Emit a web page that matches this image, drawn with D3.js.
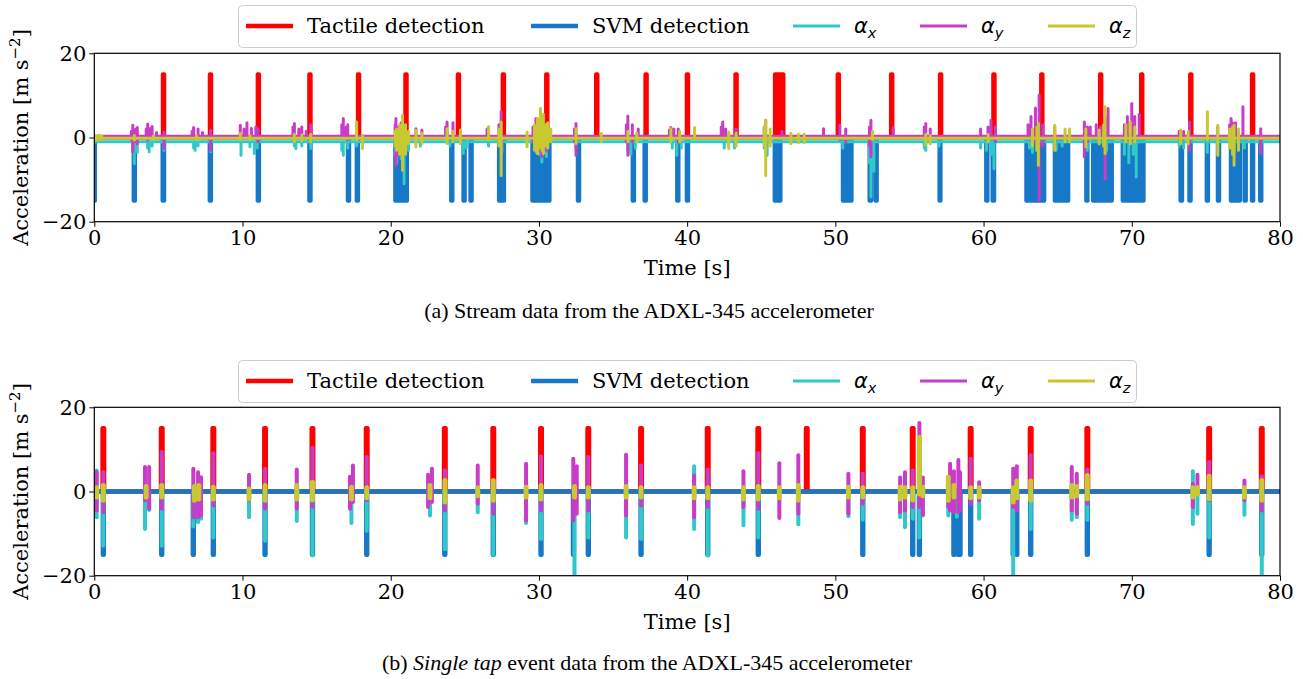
<!DOCTYPE html>
<html>
<head>
<meta charset="utf-8">
<script src="https://cdn.jsdelivr.net/npm/d3@7"></script>
<style>
  body { margin: 0; background: #fff; }
  svg { display: block; }
  .tick text { font-family: "DejaVu Serif", serif; font-size: 21px; fill: #000; }
</style>
</head>
<body>
<svg id="chart" width="1303" height="679"></svg>
<script>
// ---- datos comunes ----
const xTicks = [0, 10, 20, 30, 40, 50, 60, 70, 80];
const yTicks = [-20, 0, 20];
const legendNames = ["Tactile detection", "SVM detection", "α", "α", "α"];
const legendSubs = ["", "", "x", "y", "z"];
const captionA = "(a) Stream data from the ADXL-345 accelerometer";
const captionB = ["(b) ", "Single tap", " event data from the ADXL-345 accelerometer"];

// ---- panel (a): flujo continuo ----
// pulsos a +15 (tactil) y -15 (SVM): [inicio, fin] en segundos
const aTactile = [[4.62,4.72],[7.79,7.89],[11.02,11.12],[14.5,14.6],[17.78,17.88],[20.98,21.08],
  [24.52,24.62],[27.55,27.65],[30.48,30.58],[33.85,33.95],[37.18,37.28],[39.97,40.07],[43.25,43.35],
  [45.92,46.5],[50.15,50.25],[53.75,53.85],[57.05,57.15],[60.65,60.75],[63.88,63.98],[67.85,67.95],
  [70.62,70.72],[73.93,74.03],[78.1,78.2]];
const aSvm = [[0,0.05],[2.65,2.75],[4.6,4.72],[7.78,7.88],[11.02,11.12],[14.5,14.6],[17.1,17.2],
  [17.7,17.8],[20.3,20.42],[20.55,21.1],[24.07,24.17],[24.9,25.0],[25.37,25.47],[27.3,27.65],
  [29.55,30.72],[32.62,32.72],[36.32,36.42],[37.12,37.22],[39.32,39.42],[39.97,40.07],[45.9,46.3],
  [50.5,51.1],[52.3,52.42],[52.7,52.8],[57.02,57.1],[60.17,60.27],[60.6,60.72],[62.88,64.1],
  [64.8,65.72],[66.92,67.02],[67.38,68.02],[68.18,68.66],[69.38,70.8],[73.28,73.4],[73.88,73.98],
  [75.05,75.15],[75.8,75.9],[76.68,77.3],[77.6,77.7],[78.1,78.2],[78.65,78.75]];
// nivel de reposo de cada eje
const aAxBase = -1.0;
const aAyBase = 0.3;
const aAzBase = -0.15;
// picos: [t, max, min]
const aAxSpikes = [[2.6,-1,-3.0],[2.7,-1,-6.2],[2.9,-1,-3.5],[3.6,-1,-2.5],[3.7,-1,-3.4],[3.9,-1,-2.0],
  [4.7,-1,-3.0],[6.7,-1,-2.5],[6.8,-1,-3.0],[7.0,-1,-2.0],[7.85,-1,-3.4],[9.9,-1,-4.2],[10.5,-1,-2.2],
  [10.8,-1,-3.8],[11.0,-1,-2.5],[13.5,-1,-2.0],[13.6,-1,-2.6],[14.0,-1,-2.0],[14.6,-1,-2.6],[16.7,-1,-3.0],
  [16.8,-1,-4.2],[17.1,-1,-2.5],[17.7,-1,-2.0],[20.3,-1,-4.0],[20.4,-1,-6.0],[20.7,-1,-5.0],[20.9,-1,-11.0],
  [21.2,-1,-3.0],[22.0,-1,-2.0],[24.0,-1,-2.0],[24.9,-1,-3.8],[25.1,-1,-2.5],[26.6,-1,-2.0],[27.5,-1,-3.5],
  [29.7,-1,-2.5],[29.8,-1,-3.5],[30.0,-1,-4.0],[30.2,-1,-5.8],[30.4,-1,-3.5],[30.5,-1,-4.5],[32.5,-1,-2.5],
  [36.0,-1,-3.0],[36.2,-1,-4.0],[36.5,-1,-2.5],[39.0,-1,-2.5],[39.3,-1,-4.2],[39.6,-1,-2.5],[42.5,-1,-2.5],
  [43.2,-1,-2.5],[45.2,-1,-2.5],[45.4,-1,-4.2],[50.5,-1,-2.5],[52.3,-1,-6.0],[52.4,-1,-14.1],[52.6,-1,-8.0],
  [56.0,-1,-2.5],[56.1,-1,-3.0],[57.0,-1,-2.0],[59.8,-1,-2.5],[60.2,-1,-3.0],[60.5,-1,-4.0],[60.7,-1,-7.4],
  [63.1,-1,-2.5],[63.3,-1,-3.5],[63.6,-1,-3.0],[64.9,-1,-3.0],[65.3,-1,-2.0],[66.9,-1,-2.5],[67.0,-1,-3.0],
  [68.3,-1,-3.0],[69.5,-1,-4.0],[69.8,-1,-6.0],[70.1,-1,-4.0],[70.3,-1,-9.4],[73.2,-1,-2.0],[73.5,-1,-2.5],
  [75.1,-1,-3.5],[75.8,-1,-3.0],[76.7,-1,-2.5],[76.9,-1,-3.5],[77.6,-1,-2.5],[78.7,-1,-3.0]];
const aAySpikes = [[2.5,1.5,-0.5],[2.6,2.9,-3.4],[2.8,2.0,-1.0],[2.9,2.4,-1.5],[3.5,2.0,0],[3.6,3.2,-0.6],
  [3.8,2.2,0],[3.9,2.6,0],[4.2,1.2,0],[4.7,1.3,-2.6],[6.6,1.5,0],[6.7,2.4,0],[7.0,2.0,0],[7.3,1.2,0],
  [7.85,1.7,-3.0],[9.85,2.9,0],[10.1,2.0,0],[10.3,3.5,0],[10.6,2.2,0],[10.9,2.5,0],[11.05,2.0,-1.0],
  [13.4,2.5,0],[13.5,3.3,0],[13.8,2.0,0],[14.0,2.5,0],[14.3,1.5,0],[14.6,3.0,-0.5],[16.7,3.0,0],
  [16.8,4.5,0],[17.0,2.5,0],[17.1,3.0,-0.5],[20.3,3.0,-2.0],[20.35,4.5,-6.6],[20.5,2.5,-4.0],[20.7,3.5,-3.0],
  [21.0,2.5,-2.0],[21.7,2.1,0],[22.1,1.8,0],[23.7,2.5,0],[23.8,3.7,0],[24.2,3.5,-0.5],[26.5,2.0,0],
  [26.6,2.5,0],[27.3,3.0,-1.0],[27.45,6.1,-4.2],[29.6,2.5,-1.0],[29.8,4.5,-2.0],[30.0,3.0,-3.0],
  [30.2,3.5,-4.6],[30.5,3.0,-3.0],[32.4,2.0,-1.0],[32.5,3.3,-4.2],[35.9,3.0,-1.0],[36.0,5.1,-4.2],
  [36.3,3.0,-1.0],[36.7,2.0,0],[38.8,1.8,0],[38.9,2.4,0],[39.1,2.0,0],[39.4,2.0,-1.0],[42.3,2.5,0],
  [42.4,3.7,0],[42.6,2.0,0],[43.3,2.0,0],[45.2,2.5,0],[45.3,4.1,0],[46.4,1.5,0],[49.2,2.1,0],[50.3,2.9,-0.5],
  [50.7,2.0,-1.0],[52.3,2.5,-2.0],[52.4,4.1,-4.6],[53.9,2.3,0],[56.0,2.5,0],[56.1,3.3,0],[56.4,2.0,0],
  [59.8,2.0,0],[60.3,2.5,0],[60.5,4.1,0],[60.8,2.5,-1.0],[63.0,3.0,0],[63.2,5.0,0],[63.5,7.0,-1.0],
  [63.75,10.1,-14.9],[64.0,3.0,-2.0],[64.8,2.5,-2.0],[66.8,3.7,-4.6],[67.0,2.5,-1.0],[67.2,2.5,0],
  [67.6,3.0,0],[67.9,2.5,0],[68.2,4.9,-9.8],[68.4,6.9,0],[69.5,3.0,0],[69.7,5.0,-0.5],[70.0,8.1,-0.6],
  [70.2,5.0,0],[70.5,5.5,0],[73.2,1.5,0],[73.5,1.5,0],[73.9,3.7,-3.0],[75.8,2.5,0],[76.6,3.0,0],
  [76.7,4.5,0],[76.8,3.5,0],[77.0,3.5,0],[77.5,7.3,0],[78.7,2.1,-3.8]];
const aAzSpikes = [[0.1,0.5,-0.6],[0.3,0.6,-0.6],[0.5,0.4,-0.5],[2.7,0.5,-0.6],[4.0,0.4,-0.4],[6.9,0.4,-0.4],
  [9.85,1.0,-0.5],[10.5,0.5,-0.5],[13.5,0.8,-1.0],[14.0,0.6,-0.8],[14.6,0.8,-1.0],[17.7,3.7,-0.6],
  [18.1,0.5,-2.6],[20.3,1.5,-2.0],[20.4,2.0,-3.0],[20.6,3.0,-4.0],[20.8,5.3,-7.8],[21.0,3.0,-4.0],
  [21.2,1.5,-1.5],[21.7,1.7,-2.2],[22.1,1.0,-1.5],[23.8,2.1,-1.4],[24.2,1.5,-1.0],[24.7,1.8,-1.4],
  [26.6,2.5,-0.6],[27.3,2.0,-2.0],[27.45,3.7,-9.0],[29.2,1.3,-2.2],[29.7,3.0,-3.0],[29.8,2.0,-2.0],
  [29.9,4.5,-3.8],[30.0,3.0,-2.5],[30.1,6.9,-2.0],[30.2,4.0,-3.0],[30.3,5.5,-3.8],[30.45,3.0,-2.0],
  [30.6,3.5,-2.5],[30.8,2.0,-1.0],[32.5,2.1,-1.4],[34.2,1.0,-1.0],[36.0,1.5,-1.0],[36.6,1.0,-1.0],
  [38.9,2.1,-1.0],[39.5,1.5,-1.0],[40.5,2.4,-0.3],[42.8,1.3,-2.6],[43.3,1.0,-2.0],[45.2,2.5,-2.0],
  [45.3,4.1,-9.0],[45.6,2.0,-2.0],[47.0,1.0,-1.5],[47.5,0.8,-1.2],[47.9,0.8,-1.2],[52.5,1.5,-0.5],
  [56.1,0.8,-1.8],[56.4,0.5,-1.5],[60.3,0.8,-1.0],[63.3,2.0,-2.0],[63.6,2.5,-3.0],[63.7,3.3,-6.6],
  [64.8,2.9,-3.0],[65.5,2.0,-1.0],[65.8,2.0,-1.0],[66.9,2.0,-2.2],[67.8,1.8,-1.5],[68.1,3.0,-2.0],
  [68.2,7.3,-3.8],[69.6,3.0,-1.0],[69.9,3.7,-1.5],[70.2,2.5,-1.0],[73.3,1.8,-1.5],[73.8,1.5,-1.5],
  [75.1,6.1,-0.6],[75.8,2.9,-4.2],[76.6,2.0,-2.5],[76.8,2.5,-4.0],[76.9,2.9,-6.6],[77.2,2.0,-3.0]];

// ---- panel (b): solo eventos ----
const bTactile = [[0.56,0.66],[4.5,4.6],[7.98,8.08],[11.47,11.57],[14.67,14.77],[18.33,18.43],
  [23.6,23.7],[26.87,26.97],[30.09,30.19],[33.28,33.38],[36.84,36.94],[41.34,41.44],[44.75,44.85],
  [48.02,48.12],[51.8,51.9],[55.17,55.27],[59.08,59.18],[63.13,63.23],[66.95,67.05],[75.17,75.27],
  [78.72,78.82]];
const bSvm = [[0.58,0.64],[4.52,4.58],[6.65,6.71],[8.0,8.06],[11.49,11.55],[14.69,14.75],[18.35,18.41],
  [23.62,23.68],[26.89,26.95],[30.11,30.17],[32.3,32.36],[33.3,33.36],[36.86,36.92],[41.36,41.42],
  [44.77,44.83],[51.82,51.88],[55.19,55.25],[55.64,55.7],[57.97,58.03],[58.27,58.33],[58.38,58.44],
  [59.1,59.16],[61.97,62.03],[62.21,62.27],[63.15,63.21],[66.97,67.03],[75.19,75.25],[78.74,78.8]];
// barras: [t, min, max]
const bAx = [[0.16,-6.1,5.0],[0.61,-12.9,0],[3.42,-8.9,0],[3.7,-4.4,0],[4.55,-12.9,0],[6.68,-8.3,0],
  [7.0,-7.3,0],[7.2,-6.5,0],[8.03,-10.9,0],[10.44,-6.1,0],[11.52,-11.7,0],[13.66,-7.0,0],[14.72,-15.2,0],
  [17.35,-7.5,0],[18.38,-9.3,0],[22.65,-5.7,0],[23.66,-13.7,0],[25.87,-4.9,0],[26.92,-15,0],[29.13,-7.5,0],
  [30.14,-11.3,0],[32.4,-20.5,0],[33.33,-10.9,0],[35.88,-10.9,0],[36.89,-11.3,0],[40.47,-8.9,6.0],
  [41.39,-15.2,0],[43.8,-8.0,0],[44.8,-10.9,0],[47.5,-7.8,0],[50.88,-5.9,0],[51.85,-6.7,0],[54.37,-6.1,0],
  [54.7,-8.5,0],[55.22,-6.5,0],[55.67,-10.9,0],[55.9,-5.7,0],[57.62,-5.7,0],[58.2,-6.0,0],[59.7,-6.5,0],
  [62.0,-20.5,0],[63.18,-8.9,0],[65.95,-6.7,0],[66.29,-6.1,0],[67.0,-6.7,0],[74.12,-7.7,4.8],
  [74.43,-5.3,0],[75.22,-10.9,0],[77.6,-5.5,0],[78.77,-20.5,0]];
const bAy = [[0.16,-4.5,4.6],[0.61,-4.9,4.6],[3.42,-2.1,5.8],[3.7,-4.1,5.8],[4.55,-4.1,9.4],[6.68,-6.1,5.4],
  [7.0,-6.1,4.6],[7.2,-5.7,3.4],[8.03,-3.3,9.1],[10.44,-2.1,4.0],[11.52,-4.1,5.4],[13.66,-4.1,5.2],
  [14.72,-3.6,10.4],[17.25,-4.1,3.5],[17.45,-2.5,6.2],[18.38,-2.1,8.2],[22.52,-3.7,4.0],[22.78,-2.5,5.4],
  [23.66,-4.5,5.0],[25.87,-2.9,6.2],[26.92,-5.3,2.6],[29.13,-6.9,6.6],[30.14,-4.5,8.3],[32.32,-6.9,7.8],
  [32.55,-5.3,6.0],[33.33,-4.5,8.2],[35.88,-5.7,8.7],[36.89,-3.3,6.2],[40.47,-6.1,3.8],[41.39,-3.7,5.2],
  [43.8,-3.7,4.8],[44.8,-4.1,9.1],[46.22,-6.3,6.7],[47.5,-5.3,8.6],[50.88,-5.3,4.2],[51.85,-2.9,4.2],
  [54.37,-4.9,3.3],[54.7,-4.5,4.6],[55.22,-3.7,5.0],[55.67,-3.7,16.3],[55.9,-5.5,3.3],[57.62,-3.7,3.4],
  [57.74,-4.5,6.6],[58.0,-4.9,4.8],[58.3,-4.9,7.5],[58.41,-4.5,4.6],[59.13,-2.9,7.8],[59.7,-2.1,2.2],
  [62.0,-3.7,5.4],[62.24,-4.5,6.0],[63.18,-2.1,8.6],[65.95,-4.5,5.8],[66.29,-5.3,4.2],[67.0,-2.9,5.2],
  [74.12,-3.7,1.8],[74.43,-0.6,4.0],[75.22,-2.1,7.0],[77.6,-2.1,2.6],[78.77,-4.5,3.6]];
const bAz = [[0.16,-1.3,0.9],[0.61,-2.1,1.4],[3.5,-1.3,1.2],[4.55,-1.3,1.4],[6.75,-2.1,1.2],[7.05,-1.8,1.4],
  [8.03,-1.8,1.0],[10.44,-1.8,0.6],[11.52,-2.1,1.4],[13.66,-1.8,1.4],[14.72,-2.0,2.2],[17.35,-1.8,1.0],
  [18.38,-1.5,0.9],[22.65,-1.5,1.4],[23.66,-2.5,2.6],[25.87,-1.0,0.9],[26.92,-2.1,2.6],[29.13,-1.3,1.0],
  [30.14,-1.8,1.4],[32.4,-1.3,1.2],[33.33,-1.3,0.9],[35.88,-1.3,1.2],[36.89,-1.3,0.9],[40.47,-1.5,0.9],
  [41.39,-1.5,0.9],[43.8,-1.8,0.9],[44.8,-1.8,1.2],[46.22,-1.5,0.9],[47.5,-2.0,1.4],[50.88,-1.3,1.0],
  [51.85,-1.3,0.9],[54.37,-1.8,1.0],[54.7,-1.3,0.9],[55.22,-2.0,0.9],[55.67,-0.6,12.9],[55.9,-1.0,1.0],
  [57.62,-2.1,3.4],[58.0,-1.3,1.4],[59.13,-1.5,0.9],[59.7,-1.3,0.9],[62.0,-2.5,0.9],[62.24,-1.5,2.5],
  [63.18,-2.1,2.5],[65.95,-1.3,1.4],[66.29,-1.0,1.2],[67.0,-1.7,3.8],[74.12,-1.3,0.9],[74.43,-0.6,0.9],
  [75.22,-1.7,3.6],[77.6,-1.3,0.9],[78.77,-2.1,2.6]];

// ---- estilo ----
const colors = ["#ff0000", "#1878c8", "#30c8c8", "#c83cc8", "#c8c830"];
const PULSE = 15;

const svg = d3.select("#chart");
const x0 = 94.3, x1 = 1280;

function pulseSeries(intervals, level) {
  // señal escalón: 0 fuera de los intervalos, 'level' dentro
  const pts = [[0, 0]];
  intervals.forEach(([a, b]) => { pts.push([a, 0], [a, level], [b, level], [b, 0]); });
  pts.push([80, 0]);
  return pts;
}

function spikeSeries(base, spikes) {
  const pts = [[0, base]];
  spikes.forEach(([t, hi, lo]) => { pts.push([t, base], [t, hi], [t, lo], [t, base]); });
  pts.push([80, base]);
  return pts;
}

function drawLegend(yc) {
  const g = svg.append("g");
  g.append("rect").attr("x", 238.5).attr("y", yc - 20.5).attr("width", 898).attr("height", 42)
    .attr("rx", 4).attr("fill", "#fff").attr("fill-opacity", 0.85)
    .attr("stroke", "#cccccc").attr("stroke-width", 1);
  const lineX = [246, 531, 793, 920, 1048];
  legendNames.forEach((name, i) => {
    g.append("line").attr("x1", lineX[i]).attr("x2", lineX[i] + 47)
      .attr("y1", yc).attr("y2", yc)
      .attr("stroke", colors[i]).attr("stroke-width", i < 2 ? 4.5 : 3);
    const t = g.append("text").attr("x", lineX[i] + 61).attr("y", yc + 7)
      .attr("font-size", 21).attr("fill", "#000");
    if (legendSubs[i]) {
      t.attr("font-family", "DejaVu Sans").attr("font-style", "italic");
      t.append("tspan").text(name);
      t.append("tspan").attr("dy", 5).attr("font-size", 14.5).text(legendSubs[i]);
    } else {
      t.attr("font-family", "DejaVu Serif").text(name);
    }
  });
}

function drawPanel(top, bottom, id, draw) {
  const x = d3.scaleLinear().domain([0, 80]).range([x0, x1]);
  const y = d3.scaleLinear().domain([-20, 20]).range([bottom, top]);

  svg.append("clipPath").attr("id", id).append("rect")
    .attr("x", x0).attr("y", top).attr("width", x1 - x0).attr("height", bottom - top);
  const plot = svg.append("g").attr("clip-path", `url(#${id})`);
  draw(plot, x, y);

  svg.append("g").attr("transform", `translate(0,${bottom})`)
    .call(d3.axisBottom(x).tickValues(xTicks).tickSize(5).tickPadding(3))
    .call(g => g.select(".domain").remove());
  svg.append("g").attr("transform", `translate(${x0},0)`)
    .call(d3.axisLeft(y).tickValues(yTicks).tickSize(5).tickPadding(3)
      .tickFormat(d => d < 0 ? "\u2212" + Math.abs(d) : d))
    .call(g => g.select(".domain").remove());
  svg.selectAll(".tick line").attr("stroke", "#000").attr("stroke-width", 1);

  svg.append("rect").attr("x", x0).attr("y", top).attr("width", x1 - x0).attr("height", bottom - top)
    .attr("fill", "none").attr("stroke", "#000").attr("stroke-width", 1.2);

  svg.append("text").attr("x", (x0 + x1) / 2).attr("y", bottom + 53)
    .attr("text-anchor", "middle").attr("font-family", "DejaVu Serif").attr("font-size", 21)
    .text("Time [s]");

  const yl = svg.append("text")
    .attr("transform", `translate(28,${(top + bottom) / 2}) rotate(-90)`)
    .attr("text-anchor", "middle").attr("font-family", "DejaVu Serif").attr("font-size", 21);
  yl.append("tspan").text("Acceleration [m s");
  yl.append("tspan").attr("dy", -8).attr("font-size", 15).text("\u22122");
  yl.append("tspan").attr("dy", 8).text("]");
}

// panel (a)
drawPanel(53.3, 221.7, "clipA", (plot, x, y) => {
  const line = d3.line().x(d => x(d[0])).y(d => y(d[1]));
  const area = d3.area().x(d => x(d[0])).y0(y(0)).y1(d => y(d[1]));
  const pulses = [[pulseSeries(aTactile, PULSE), colors[0]], [pulseSeries(aSvm, -PULSE), colors[1]]];
  pulses.forEach(([pts, c]) => {
    plot.append("path").attr("d", area(pts)).attr("fill", c);
    plot.append("path").attr("d", line(pts)).attr("fill", "none").attr("stroke", c)
      .attr("stroke-width", 4).attr("stroke-linejoin", "round");
  });
  const axes = [[aAxBase, aAxSpikes, colors[2]], [aAyBase, aAySpikes, colors[3]], [aAzBase, aAzSpikes, colors[4]]];
  axes.forEach(([base, spikes, c]) => {
    plot.append("path").attr("d", line(spikeSeries(base, spikes))).attr("fill", "none")
      .attr("stroke", c).attr("stroke-width", 3).attr("stroke-linejoin", "round");
  });
});

// panel (b)
drawPanel(407.3, 575.7, "clipB", (plot, x, y) => {
  const line = d3.line().x(d => x(d[0])).y(d => y(d[1]));
  const area = d3.area().x(d => x(d[0])).y0(y(0)).y1(d => y(d[1]));
  const pulses = [[pulseSeries(bTactile, PULSE), colors[0]], [pulseSeries(bSvm, -PULSE), colors[1]]];
  pulses.forEach(([pts, c]) => {
    plot.append("path").attr("d", area(pts)).attr("fill", c);
    plot.append("path").attr("d", line(pts)).attr("fill", "none").attr("stroke", c)
      .attr("stroke-width", 4.5).attr("stroke-linejoin", "round");
  });
  const bars = [[bAx, colors[2], 4], [bAy, colors[3], 4], [bAz, colors[4], 5]];
  bars.forEach(([data, c, w]) => {
    plot.append("g").selectAll("line").data(data).join("line")
      .attr("x1", d => x(d[0])).attr("x2", d => x(d[0]))
      .attr("y1", d => y(d[1])).attr("y2", d => y(d[2]))
      .attr("stroke", c).attr("stroke-width", w).attr("stroke-linecap", "round");
  });
});

drawLegend(26);
drawLegend(381);

// pies de figura
svg.append("text").attr("x", 649).attr("y", 318).attr("text-anchor", "middle")
  .attr("font-family", "Liberation Serif").attr("font-size", 22).text(captionA);
const cb = svg.append("text").attr("x", 647).attr("y", 670).attr("text-anchor", "middle")
  .attr("font-family", "Liberation Serif").attr("font-size", 22);
captionB.forEach((s, i) => cb.append("tspan").attr("font-style", i === 1 ? "italic" : null).text(s));
</script>
</body>
</html>
